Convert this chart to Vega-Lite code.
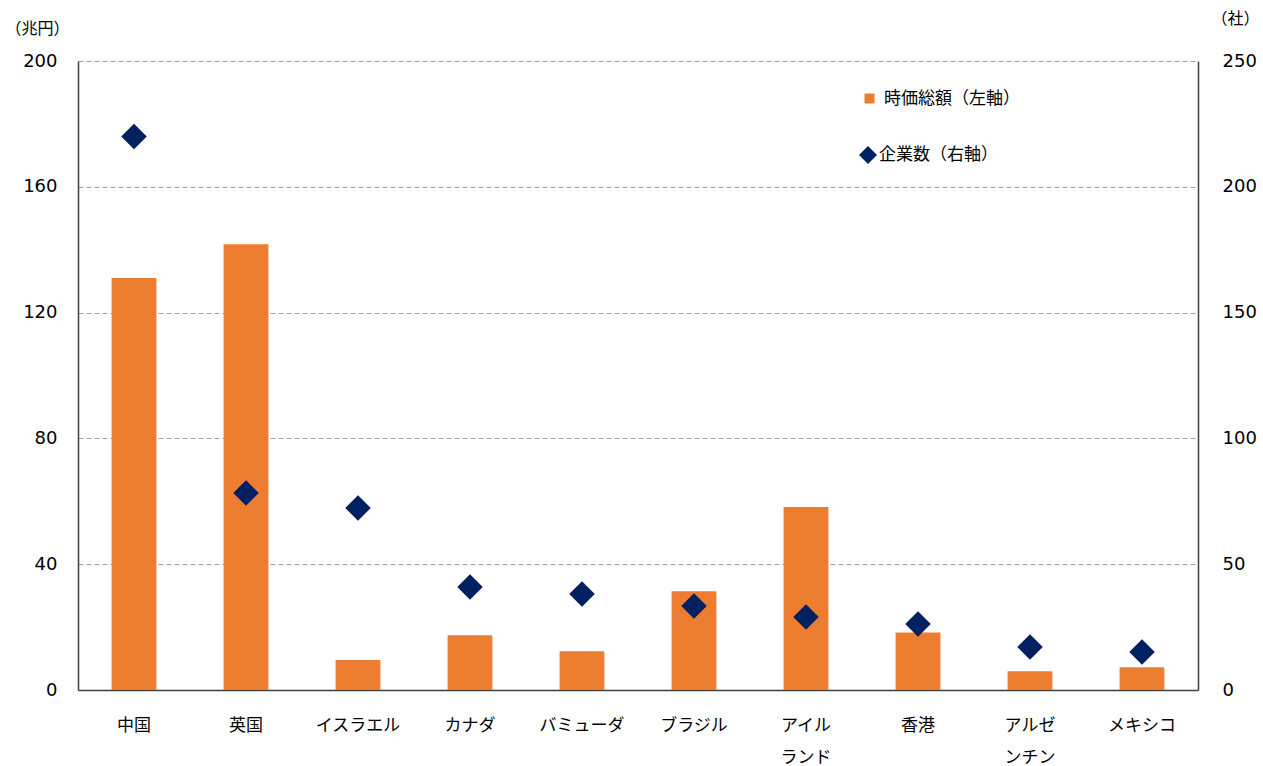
{
  "$schema": "https://vega.github.io/schema/vega-lite/v6.json",
  "width": 1120,
  "height": 629,
  "autosize": "none",
  "padding": {"left": 78, "top": 61, "right": 65, "bottom": 76},
  "background": "white",
  "config": {
    "view": {"stroke": null},
    "font": "Noto Sans CJK JP"
  },
  "data": {
    "values": [
      {"country": "中国", "cap": 131, "firms": 220},
      {"country": "英国", "cap": 141.7, "firms": 78.3},
      {"country": "イスラエル", "cap": 9.5, "firms": 72.3},
      {"country": "カナダ", "cap": 17.4, "firms": 40.9},
      {"country": "バミューダ", "cap": 12.3, "firms": 38.2},
      {"country": "ブラジル", "cap": 31.4, "firms": 33.4},
      {"country": "アイル|ランド", "cap": 58.2, "firms": 29},
      {"country": "香港", "cap": 18.3, "firms": 26.2},
      {"country": "アルゼ|ンチン", "cap": 6, "firms": 17.1},
      {"country": "メキシコ", "cap": 7.2, "firms": 15.1}
    ]
  },
  "encoding": {
    "x": {
      "field": "country",
      "type": "nominal",
      "sort": null,
      "scale": {"paddingInner": 0.6, "paddingOuter": 0.3},
      "axis": {
        "title": null,
        "labelAngle": 0,
        "labelExpr": "split(datum.label, '|')",
        "labelLineHeight": 32,
        "labelFontSize": 17,
        "labelColor": "#000000",
        "labelPadding": 27,
        "labelBaseline": "top",
        "ticks": false,
        "domainColor": "#404040",
        "domainWidth": 1.5,
        "grid": false
      }
    }
  },
  "layer": [
    {
      "mark": {"type": "bar", "fill": "#ED7D31"},
      "encoding": {
        "y": {
          "field": "cap",
          "type": "quantitative",
          "scale": {"domain": [0, 200], "nice": false},
          "axis": {
            "values": [0, 40, 80, 120, 160, 200],
            "title": "（兆円）",
            "titleAngle": 0,
            "titleX": -41,
            "titleY": -33,
            "titleAlign": "center",
            "titleBaseline": "middle",
            "titleFont": "Noto Sans CJK JP",
            "titleFontSize": 16,
            "titleFontWeight": "normal",
            "titleColor": "#000000",
            "labelFont": "DejaVu Sans",
            "labelFontSize": 18,
            "labelColor": "#000000",
            "labelPadding": 21,
            "ticks": false,
            "domainColor": "#404040",
            "domainWidth": 1.5,
            "grid": true,
            "gridColor": "#A0A0A0",
            "gridDash": [5, 3],
            "gridWidth": 1
          }
        },
        "color": {
          "datum": "時価総額（左軸）",
          "type": "nominal",
          "scale": {"range": ["#ED7D31"]},
          "legend": {
            "orient": "none",
            "legendX": 783,
            "legendY": 29,
            "title": null,
            "symbolType": "square",
            "symbolSize": 100,
            "symbolStrokeWidth": 0,
            "labelFont": "Noto Sans CJK JP",
            "labelFontSize": 17,
            "labelColor": "#000000",
            "labelOffset": 6,
            "padding": 0
          }
        }
      }
    },
    {
      "mark": {"type": "point", "shape": "diamond", "filled": true, "size": 650, "color": "#002060", "opacity": 1},
      "encoding": {
        "y": {
          "field": "firms",
          "type": "quantitative",
          "scale": {"domain": [0, 250], "nice": false},
          "axis": {
            "orient": "right",
            "values": [0, 50, 100, 150, 200, 250],
            "title": "（社）",
            "titleAngle": 0,
            "titleX": 61,
            "titleY": -43,
            "titleAlign": "right",
            "titleBaseline": "middle",
            "titleFont": "Noto Sans CJK JP",
            "titleFontSize": 16,
            "titleFontWeight": "normal",
            "titleColor": "#000000",
            "labelFont": "DejaVu Sans",
            "labelFontSize": 18,
            "labelColor": "#000000",
            "labelPadding": 24,
            "ticks": false,
            "domainColor": "#404040",
            "domainWidth": 1.5,
            "grid": false
          }
        },
        "shape": {
          "datum": "企業数（右軸）",
          "type": "nominal",
          "scale": {"range": ["diamond"]},
          "legend": {
            "orient": "none",
            "legendX": 781,
            "legendY": 85,
            "title": null,
            "symbolSize": 324,
            "symbolFillColor": "#002060",
            "symbolStrokeWidth": 0,
            "labelFont": "Noto Sans CJK JP",
            "labelFontSize": 17,
            "labelColor": "#000000",
            "labelOffset": 2,
            "padding": 0
          }
        }
      }
    }
  ],
  "resolve": {"scale": {"y": "independent", "color": "independent", "shape": "independent"}}
}
